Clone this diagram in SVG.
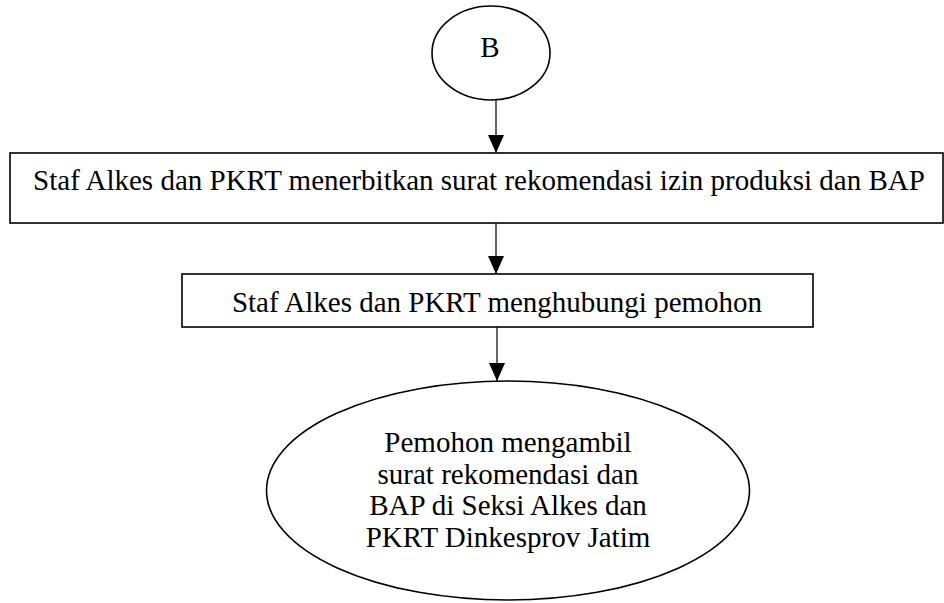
<svg xmlns="http://www.w3.org/2000/svg" width="944" height="603" viewBox="0 0 944 603">
  <style>
    .shape { fill: #ffffff; stroke: #000000; stroke-width: 1.6; }
    .label { font-family: "Liberation Serif", "Times New Roman", serif; font-size: 29px; fill: #000000; text-anchor: middle; }
    .conn { stroke: #000000; stroke-width: 1.2; fill: none; marker-end: url(#arrow); }
  </style>
  <defs>
    <marker id="arrow" viewBox="0 0 16 18" refX="8" refY="18" markerWidth="16" markerHeight="18" markerUnits="userSpaceOnUse" orient="auto-start-reverse">
      <path d="M0,0 L16,0 L8,18 Z" fill="#000000"/>
    </marker>
  </defs>
  <rect width="944" height="603" fill="#ffffff"/>
  <g id="connectors">
    <line class="conn" x1="496" y1="100" x2="496" y2="153" style="marker-end:none"/>
    <path d="M488,135 L504,135 L496,153 Z" fill="#000000"/>
    <line class="conn" x1="496" y1="223" x2="496" y2="274" style="marker-end:none"/>
    <path d="M488,256 L504,256 L496,274 Z" fill="#000000"/>
    <line class="conn" x1="497" y1="327" x2="497" y2="381" style="marker-end:none"/>
    <path d="M489,363 L505,363 L497,381 Z" fill="#000000"/>
  </g>
  <g id="node-b">
    <ellipse class="shape" cx="491" cy="53" rx="59" ry="47"/>
    <text class="label" x="490" y="57">B</text>
  </g>
  <g id="node-terbit">
    <rect class="shape" x="10" y="153" width="933" height="70"/>
    <text class="label" x="479" y="190">Staf Alkes dan PKRT menerbitkan surat rekomendasi izin produksi dan BAP</text>
  </g>
  <g id="node-hubungi">
    <rect class="shape" x="182" y="274" width="631" height="53"/>
    <text class="label" x="497" y="312">Staf Alkes dan PKRT menghubungi pemohon</text>
  </g>
  <g id="node-ambil">
    <ellipse class="shape" cx="508" cy="490.5" rx="241.5" ry="109.5"/>
    <text class="label" x="508" y="452">Pemohon mengambil</text>
    <text class="label" x="508" y="483.5">surat rekomendasi dan</text>
    <text class="label" x="508" y="515">BAP di Seksi Alkes dan</text>
    <text class="label" x="508" y="546.5">PKRT Dinkesprov Jatim</text>
  </g>
</svg>
